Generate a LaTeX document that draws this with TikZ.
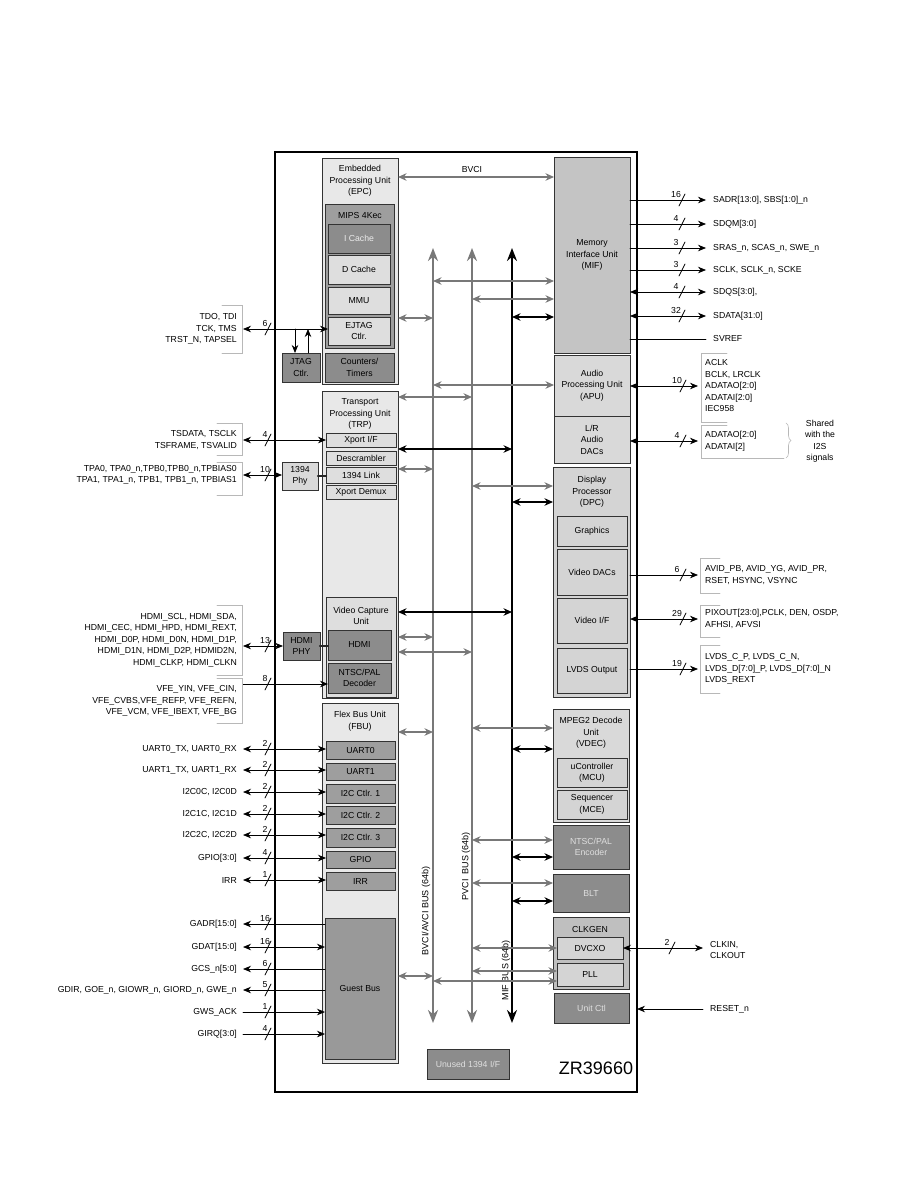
\documentclass[tikz,border=0pt]{standalone}
\usepackage{fontspec}
\setmainfont{Liberation Sans}
\usetikzlibrary{arrows.meta,decorations.pathreplacing}
\definecolor{unitfill}{gray}{0.91}
\definecolor{palefill}{gray}{0.87}
\definecolor{lightfill}{gray}{0.85}
\definecolor{midfill}{gray}{0.77}
\definecolor{mipsfill}{gray}{0.62}
\definecolor{darkfill}{gray}{0.55}
\definecolor{fbufill}{gray}{0.62}
\definecolor{guestfill}{gray}{0.6}
\definecolor{dpcfill}{gray}{0.83}
\definecolor{clkfill}{gray}{0.75}
\definecolor{boxline}{gray}{0.2}
\definecolor{busgray}{gray}{0.47}
\definecolor{bracketgray}{gray}{0.72}

\begin{document}
\begin{tikzpicture}[x=1pt,y=-1pt,>={Stealth[length=8pt,width=6.5pt]},font=\fontsize{8.7}{11.5}\selectfont,line cap=round,
  blk/.style={draw=boxline,line width=0.8pt,inner sep=0pt,outer sep=0pt,anchor=north west,align=center},
  ttl/.style={align=center,inner sep=0pt},
  sig/.style={line width=0.75pt},
  gbus/.style={busgray,line width=1.5pt,{Stealth[length=8.5pt,width=7.5pt]}-{Stealth[length=8.5pt,width=7.5pt]}},
  kbus/.style={black,line width=1.5pt,{Stealth[length=8.5pt,width=7.5pt]}-{Stealth[length=8.5pt,width=7.5pt]}},
  gspine/.style={busgray,line width=2.6pt,{Stealth[length=13pt,width=10pt]}-{Stealth[length=13pt,width=10pt]}},
  kspine/.style={black,line width=2.6pt,{Stealth[length=13pt,width=10pt]}-{Stealth[length=13pt,width=10pt]}},
  lsig/.style={anchor=east,align=right,inner xsep=6pt,inner ysep=0pt},
  rsig/.style={anchor=west,align=left,inner xsep=7pt,inner ysep=0pt},
  bitw/.style={anchor=south,inner sep=0pt},
  wslash/.style={line width=0.8pt},
  brk/.style={bracketgray,line width=0.6pt},
  phylink/.style={gray!30!black,line width=2.4pt}]
\useasboundingbox (0,0) rectangle (918,1188);
\fill[white] (0,0) rectangle (918,1188);

% chip outline
\node[draw,line width=2.6pt,inner sep=0pt,outer sep=0pt,anchor=north west,minimum width=362pt,minimum height=940pt] (chip) at (275,152) {};

% EPC
\node[blk,fill=unitfill,minimum width=76pt,minimum height=226pt] (epc) at (322,158) {};
\node[ttl] (epct) at (360,181) {Embedded\\Processing Unit\\(EPC)};
\node[blk,fill=mipsfill,minimum width=69pt,minimum height=144pt] (mips) at (325,204) {};
\node[ttl] (mipst) at (360,216) {MIPS 4Kec};
\node[blk,fill=darkfill,text=gray!15,minimum width=62pt,minimum height=29pt] (icache) at (328,224) {I Cache};
\node[blk,fill=palefill,minimum width=62pt,minimum height=29pt] (dcache) at (328,255) {D Cache};
\node[blk,fill=palefill,minimum width=62pt,minimum height=27pt] (mmu) at (328,287) {MMU};
\node[blk,fill=palefill,minimum width=62pt,minimum height=28pt] (ejtag) at (328,317) {EJTAG\\Ctlr.};
\node[blk,fill=darkfill,minimum width=69pt,minimum height=29pt] (counters) at (325,353) {Counters/\\Timers};
\node[blk,fill=darkfill,minimum width=38pt,minimum height=29pt] (jtag) at (282,353) {JTAG\\Ctlr.};

% TRP and video capture
\node[blk,fill=unitfill,minimum width=76pt,minimum height=307pt] (trp) at (322,391) {};
\node[ttl] (trpt) at (360,414) {Transport\\Processing Unit\\(TRP)};
\node[blk,fill=palefill,minimum width=70pt,minimum height=14pt] (xportif) at (326,433) {Xport I/F};
\node[blk,fill=palefill,minimum width=70pt,minimum height=14pt] (descr) at (326,451) {Descrambler};
\node[blk,fill=palefill,minimum width=70pt,minimum height=16pt] (link1394) at (326,467) {1394 Link};
\node[blk,fill=palefill,minimum width=70pt,minimum height=14pt] (demux) at (326,485) {Xport Demux};
\node[blk,fill=lightfill,minimum width=36pt,minimum height=28pt] (phy1394) at (282,462) {1394\\Phy};
\node[blk,fill=palefill,minimum width=70pt,minimum height=100pt] (vcu) at (326,597) {};
\node[ttl] (vcut) at (361,616) {Video Capture\\Unit};
\node[blk,fill=darkfill,minimum width=63pt,minimum height=30pt] (hdmi) at (328,630) {HDMI};
\node[blk,fill=darkfill,minimum width=63pt,minimum height=30pt] (ntscdec) at (328,663) {NTSC/PAL\\Decoder};
\node[blk,fill=darkfill,minimum width=37pt,minimum height=28pt] (hdmiphy) at (283,632) {HDMI\\PHY};

% FBU
\node[blk,fill=unitfill,minimum width=76pt,minimum height=360pt] (fbu) at (322,703) {};
\node[ttl] (fbut) at (360,721) {Flex Bus Unit\\(FBU)};
\node[blk,fill=fbufill,minimum width=69pt,minimum height=18pt] (uart0) at (326,741) {UART0};
\node[blk,fill=fbufill,minimum width=69pt,minimum height=17pt] (uart1) at (326,763) {UART1};
\node[blk,fill=fbufill,minimum width=69pt,minimum height=19pt] (i2cone) at (326,784) {I2C Ctlr. 1};
\node[blk,fill=fbufill,minimum width=69pt,minimum height=18pt] (i2ctwo) at (326,806) {I2C Ctlr. 2};
\node[blk,fill=fbufill,minimum width=69pt,minimum height=19pt] (i2cthree) at (326,828) {I2C Ctlr. 3};
\node[blk,fill=fbufill,minimum width=69pt,minimum height=17pt] (gpio) at (326,851) {GPIO};
\node[blk,fill=fbufill,minimum width=69pt,minimum height=18pt] (irr) at (326,872) {IRR};
\node[blk,fill=guestfill,minimum width=70pt,minimum height=141pt] (guest) at (325,918) {Guest Bus};

% right column
\node[blk,fill=midfill,minimum width=76pt,minimum height=196pt] (mif) at (554,157) {Memory\\Interface Unit\\(MIF)};
\node[blk,fill=lightfill,minimum width=76pt,minimum height=61pt] (apu) at (554,355) {Audio\\Processing Unit\\(APU)};
\node[blk,fill=lightfill,minimum width=76pt,minimum height=47pt] (lrdac) at (554,416) {L/R\\Audio\\DACs};
\node[blk,fill=dpcfill,minimum width=77pt,minimum height=230pt] (dpc) at (553,467) {};
\node[ttl] (dpct) at (592,492) {Display\\Processor\\(DPC)};
\node[blk,fill=dpcfill,minimum width=70pt,minimum height=30pt] (gfx) at (557,516) {Graphics};
\node[blk,fill=dpcfill,minimum width=70pt,minimum height=46pt] (vdac) at (557,549) {Video DACs};
\node[blk,fill=dpcfill,minimum width=70pt,minimum height=45pt] (vif) at (557,598) {Video I/F};
\node[blk,fill=dpcfill,minimum width=70pt,minimum height=45pt] (lvds) at (557,648) {LVDS Output};
\node[blk,fill=lightfill,minimum width=76pt,minimum height=113pt] (vdec) at (553,709) {};
\node[ttl] (vdect) at (591,733) {MPEG2 Decode\\Unit\\(VDEC)};
\node[blk,fill=dpcfill,minimum width=70pt,minimum height=29pt] (mcu) at (557,758) {uController\\(MCU)};
\node[blk,fill=dpcfill,minimum width=70pt,minimum height=29pt] (mce) at (557,790) {Sequencer\\(MCE)};
\node[blk,fill=darkfill,text=gray!25,minimum width=76pt,minimum height=44pt] (ntscenc) at (553,825) {NTSC/PAL\\Encoder};
\node[blk,fill=darkfill,text=gray!25,minimum width=76pt,minimum height=38pt] (blt) at (553,874) {BLT};
\node[blk,fill=clkfill,minimum width=76pt,minimum height=72pt] (clkgen) at (553,917) {};
\node[ttl] (clkgent) at (590,929) {CLKGEN};
\node[blk,fill=dpcfill,minimum width=66pt,minimum height=22pt] (dvcxo) at (557,937) {DVCXO};
\node[blk,fill=dpcfill,minimum width=66pt,minimum height=23pt] (pll) at (557,963) {PLL};
\node[blk,fill=darkfill,text=gray!25,minimum width=75pt,minimum height=30pt] (unitctl) at (554,993) {Unit Ctl};
\node[blk,fill=darkfill,text=gray!25,minimum width=82pt,minimum height=30pt] (unused) at (427,1049) {Unused 1394 I/F};
\node (partno) at (596,1068) {\fontsize{18}{20}\selectfont ZR39660};

% internal buses
\coordinate (b1t) at (433,248);
\coordinate (b1b) at (433,1023);
\coordinate (b2t) at (472,248);
\coordinate (b2b) at (472,1023);
\coordinate (b3t) at (512,248);
\coordinate (b3b) at (512,1023);
\draw[gspine] (b1b) -- (b1t);
\draw[gspine] (b2b) -- (b2t);
\draw[kspine] (b3b) -- (b3t);
\node[rotate=90,font=\fontsize{9}{10}\selectfont] (bvcibus) at (426,911) {BVCI/AVCI BUS (64b)};
\node[rotate=90,font=\fontsize{9}{10}\selectfont] (pvcibus) at (466,866) {PVCI\ \ BUS (64b)};
\node[rotate=90,font=\fontsize{9}{10}\selectfont] (mifbus) at (506,970) {MIF BUS (64b)};

\draw[gbus] (epc.east |- 0,177) -- (mif.west |- 0,177);
\node (bvcilbl) at (472,170) {BVCI};
\draw[gbus] (b1t |- 0,281) -- (mif.west |- 0,281);
\draw[gbus] (b2t |- 0,299) -- (mif.west |- 0,299);
\draw[kbus] (b3t |- 0,317) -- (mif.west |- 0,317);
\draw[gbus] (epc.east |- 0,318) -- (b1t |- 0,318);
\draw[gbus] (b1t |- 0,385) -- (apu.west |- 0,385);
\draw[gbus] (trp.east |- 0,397) -- (b2t |- 0,397);
\draw[kbus] (trp.east |- 0,449) -- (b3t |- 0,449);
\draw[gbus] (trp.east |- 0,469) -- (b1t |- 0,469);
\draw[gbus] (b2t |- 0,486) -- (dpc.west |- 0,486);
\draw[kbus] (b3t |- 0,502) -- (dpc.west |- 0,502);
\draw[kbus] (trp.east |- 0,612) -- (b3t |- 0,612);
\draw[gbus] (trp.east |- 0,637) -- (b1t |- 0,637);
\draw[gbus] (trp.east |- 0,652) -- (b2t |- 0,652);
\draw[gbus] (fbu.east |- 0,732) -- (b1t |- 0,732);
\draw[gbus] (b2t |- 0,728) -- (vdec.west |- 0,728);
\draw[kbus] (b3t |- 0,749) -- (vdec.west |- 0,749);
\draw[gbus] (b2t |- 0,840) -- (ntscenc.west |- 0,840);
\draw[kbus] (b3t |- 0,857) -- (ntscenc.west |- 0,857);
\draw[gbus] (b2t |- 0,883) -- (blt.west |- 0,883);
\draw[kbus] (b3t |- 0,901) -- (blt.west |- 0,901);
\draw[gbus] (b2t |- 0,948) -- (dvcxo.west |- 0,948);
\draw[gbus] (b2t |- 0,971) -- (pll.west |- 0,971);
\draw[gbus] (fbu.east |- 0,976) -- (b1t |- 0,976);
\draw[gbus] (b1t |- 0,981) -- (pll.west |- 0,981);

% left signals
\node[lsig] (tdo) at (243,329) {TDO, TDI\\TCK, TMS\\TRST\_N, TAPSEL};
\draw[sig,<->] (tdo.east) -- (tdo.east -| ejtag.west);
\draw[wslash] (268,329) +(-3,6) -- +(3,-6);
\node[bitw] (tdow) at (265,327) {6};
\coordinate (jdown) at (295,329);
\coordinate (jup) at (308,329);
\draw[sig,->] (jdown) -- (jdown |- jtag.north);
\draw[sig,->] (jup |- jtag.north) -- (jup);

\node[lsig] (tsig) at (243,440) {TSDATA, TSCLK\\TSFRAME, TSVALID};
\draw[sig,<->] (tsig.east) -- (tsig.east -| xportif.west);
\draw[wslash] (268,440) +(-3,6) -- +(3,-6);
\node[bitw] (tsw) at (265,438) {4};

\node[lsig] (tpsig) at (243,475) {TPA0, TPA0\_n,TPB0,TPB0\_n,TPBIAS0\\TPA1, TPA1\_n, TPB1, TPB1\_n, TPBIAS1};
\draw[sig,<->] (tpsig.east) -- (tpsig.east -| phy1394.west);
\draw[wslash] (268,475) +(-3,6) -- +(3,-6);
\node[bitw] (tpw) at (265,473) {10};
\draw[phylink] (phy1394.east) -- (phy1394.east -| link1394.west);

\node[lsig] (hdmisig) at (243,640) {HDMI\_SCL, HDMI\_SDA,\\HDMI\_CEC, HDMI\_HPD, HDMI\_REXT,\\HDMI\_D0P, HDMI\_D0N, HDMI\_D1P,\\HDMI\_D1N, HDMI\_D2P, HDMID2N,\\HDMI\_CLKP, HDMI\_CLKN};
\draw[sig,<->] (hdmisig.east |- hdmiphy.west) -- (hdmiphy.west);
\draw[wslash] (268,646) +(-3,6) -- +(3,-6);
\node[bitw] (hdmiw) at (265,644) {13};
\draw[phylink] (hdmiphy.east) -- (hdmiphy.east -| hdmi.west);

\node[lsig] (vfesig) at (243,701) {VFE\_YIN, VFE\_CIN,\\VFE\_CVBS,VFE\_REFP, VFE\_REFN,\\VFE\_VCM, VFE\_IBEXT, VFE\_BG};
\draw[sig,->] (vfesig.east |- 0,684) -- (ntscdec.west |- 0,684);
\draw[wslash] (268,684) +(-3,6) -- +(3,-6);
\node[bitw] (vfew) at (265,682) {8};

\node[lsig] (uart0s) at (243,749) {UART0\_TX, UART0\_RX};
\draw[sig,<->] (uart0s.east) -- (uart0s.east -| uart0.west);
\draw[wslash] (268,749) +(-3,6) -- +(3,-6);
\node[bitw] (uart0w) at (265,747) {2};
\node[lsig] (uart1s) at (243,770) {UART1\_TX, UART1\_RX};
\draw[sig,<->] (uart1s.east) -- (uart1s.east -| uart1.west);
\draw[wslash] (268,770) +(-3,6) -- +(3,-6);
\node[bitw] (uart1w) at (265,768) {2};
\node[lsig] (i2c0s) at (243,792) {I2C0C, I2C0D};
\draw[sig,<->] (i2c0s.east) -- (i2c0s.east -| i2cone.west);
\draw[wslash] (268,792) +(-3,6) -- +(3,-6);
\node[bitw] (i2c0w) at (265,790) {2};
\node[lsig] (i2c1s) at (243,814) {I2C1C, I2C1D};
\draw[sig,<->] (i2c1s.east) -- (i2c1s.east -| i2ctwo.west);
\draw[wslash] (268,814) +(-3,6) -- +(3,-6);
\node[bitw] (i2c1w) at (265,812) {2};
\node[lsig] (i2c2s) at (243,835) {I2C2C, I2C2D};
\draw[sig,<->] (i2c2s.east) -- (i2c2s.east -| i2cthree.west);
\draw[wslash] (268,835) +(-3,6) -- +(3,-6);
\node[bitw] (i2c2w) at (265,833) {2};
\node[lsig] (gpios) at (243,858) {GPIO[3:0]};
\draw[sig,<->] (gpios.east) -- (gpios.east -| gpio.west);
\draw[wslash] (268,858) +(-3,6) -- +(3,-6);
\node[bitw] (gpiow) at (265,856) {4};
\node[lsig] (irrs) at (243,880) {IRR};
\draw[sig,<->] (irrs.east) -- (irrs.east -| irr.west);
\draw[wslash] (268,880) +(-3,6) -- +(3,-6);
\node[bitw] (irrw) at (265,878) {1};

\node[lsig] (gadrs) at (243,924) {GADR[15:0]};
\draw[sig,->] (gadrs.east -| guest.west) -- (gadrs.east);
\draw[wslash] (268,924) +(-3,6) -- +(3,-6);
\node[bitw] (gadrw) at (265,922) {16};
\node[lsig] (gdats) at (243,947) {GDAT[15:0]};
\draw[sig,<->] (gdats.east) -- (gdats.east -| guest.west);
\draw[wslash] (268,947) +(-3,6) -- +(3,-6);
\node[bitw] (gdatw) at (265,945) {16};
\node[lsig] (gcss) at (243,969) {GCS\_n[5:0]};
\draw[sig,->] (gcss.east -| guest.west) -- (gcss.east);
\draw[wslash] (268,969) +(-3,6) -- +(3,-6);
\node[bitw] (gcsw) at (265,967) {6};
\node[lsig] (gdirs) at (243,990) {GDIR, GOE\_n, GIOWR\_n, GIORD\_n, GWE\_n};
\draw[sig,->] (gdirs.east -| guest.west) -- (gdirs.east);
\draw[wslash] (268,990) +(-3,6) -- +(3,-6);
\node[bitw] (gdirw) at (265,988) {5};
\node[lsig] (gwss) at (243,1012) {GWS\_ACK};
\draw[sig,->] (gwss.east) -- (gwss.east -| guest.west);
\draw[wslash] (268,1012) +(-3,6) -- +(3,-6);
\node[bitw] (gwsw) at (265,1010) {1};
\node[lsig] (girqs) at (243,1034) {GIRQ[3:0]};
\draw[sig,->] (girqs.east) -- (girqs.east -| guest.west);
\draw[wslash] (268,1034) +(-3,6) -- +(3,-6);
\node[bitw] (girqw) at (265,1032) {4};

% left brackets
\draw[brk] (222,305) -- (242,305) -- (242,353) -- (222,353);
\draw[brk] (217,423) -- (242,423) -- (242,455) -- (217,455);
\draw[brk] (217,462) -- (242,462) -- (242,495) -- (217,495);
\draw[brk] (217,605) -- (242,605) -- (242,675) -- (217,675);
\draw[brk] (217,678) -- (242,678) -- (242,723) -- (217,723);

% right signals
\node[rsig] (sadr) at (706,200) {SADR[13:0], SBS[1:0]\_n};
\draw[sig,->] (sadr.west -| mif.east) -- (sadr.west);
\draw[wslash] (682,200) +(-3,6) -- +(3,-6);
\node[bitw] (sadrw) at (676,198) {16};
\node[rsig] (sdqm) at (706,224) {SDQM[3:0]};
\draw[sig,->] (sdqm.west -| mif.east) -- (sdqm.west);
\draw[wslash] (682,224) +(-3,6) -- +(3,-6);
\node[bitw] (sdqmw) at (676,222) {4};
\node[rsig] (sras) at (706,248) {SRAS\_n, SCAS\_n, SWE\_n};
\draw[sig,->] (sras.west -| mif.east) -- (sras.west);
\draw[wslash] (682,248) +(-3,6) -- +(3,-6);
\node[bitw] (srasw) at (676,246) {3};
\node[rsig] (sclk) at (706,270) {SCLK, SCLK\_n, SCKE};
\draw[sig,->] (sclk.west -| mif.east) -- (sclk.west);
\draw[wslash] (682,270) +(-3,6) -- +(3,-6);
\node[bitw] (sclkw) at (676,268) {3};
\node[rsig] (sdqs) at (706,292) {SDQS[3:0],};
\draw[sig,<->] (sdqs.west -| mif.east) -- (sdqs.west);
\draw[wslash] (682,292) +(-3,6) -- +(3,-6);
\node[bitw] (sdqsw) at (676,290) {4};
\node[rsig] (sdata) at (706,316) {SDATA[31:0]};
\draw[sig,<->] (sdata.west -| mif.east) -- (sdata.west);
\draw[wslash] (682,316) +(-3,6) -- +(3,-6);
\node[bitw] (sdataw) at (676,314) {32};
\node[rsig] (svref) at (706,339) {SVREF};
\draw[sig] (svref.west -| mif.east) -- (svref.west);

\node[rsig] (apusig) at (698,386) {ACLK\\BCLK, LRCLK\\ADATAO[2:0]\\ADATAI[2:0]\\IEC958};
\draw[sig,<->] (apusig.west -| apu.east) -- (apusig.west);
\draw[wslash] (683,386) +(-3,6) -- +(3,-6);
\node[bitw] (apuw) at (677,384) {10};
\node[rsig] (i2ssig) at (698,441) {ADATAO[2:0]\\ADATAI[2]};
\draw[sig,<->] (i2ssig.west -| lrdac.east) -- (i2ssig.west);
\draw[wslash] (683,441) +(-3,6) -- +(3,-6);
\node[bitw] (i2sw) at (677,439) {4};
\draw[brk] (727,353) -- (701,353) -- (701,422) -- (727,422);
\draw[brk] (727,425) -- (701,425) -- (701,458) -- (784,458);
\draw[brk,decorate,decoration={brace,amplitude=5pt}] (786,423) -- (786,458);
\node[ttl] (shared) at (820,441) {Shared\\with the\\I2S\\signals};

\node[rsig] (vdacsig) at (698,575) {AVID\_PB, AVID\_YG, AVID\_PR,\\RSET, HSYNC, VSYNC};
\draw[sig,->] (vdacsig.west -| dpc.east) -- (vdacsig.west);
\draw[wslash] (683,575) +(-3,6) -- +(3,-6);
\node[bitw] (vdacw) at (677,573) {6};
\node[rsig] (vifsig) at (698,619) {PIXOUT[23:0],PCLK, DEN, OSDP,\\AFHSI, AFVSI};
\draw[sig,<->] (vifsig.west -| dpc.east) -- (vifsig.west);
\draw[wslash] (683,619) +(-3,6) -- +(3,-6);
\node[bitw] (vifw) at (677,617) {29};
\node[rsig] (lvdssig) at (698,669) {LVDS\_C\_P, LVDS\_C\_N,\\LVDS\_D[7:0]\_P, LVDS\_D[7:0]\_N\\LVDS\_REXT};
\draw[sig,->] (lvdssig.west -| dpc.east) -- (lvdssig.west);
\draw[wslash] (683,669) +(-3,6) -- +(3,-6);
\node[bitw] (lvdsw) at (677,667) {19};
\draw[brk] (720,558) -- (700,558) -- (700,593) -- (720,593);
\draw[brk] (720,605) -- (700,605) -- (700,637) -- (720,637);
\draw[brk] (720,645) -- (700,645) -- (700,693) -- (720,693);

\node[rsig] (clksig) at (703,950) {CLKIN,\\CLKOUT};
\draw[sig,<->] (dvcxo.east) -- (dvcxo.east -| clksig.west);
\draw[wslash] (672,948) +(-3,6) -- +(3,-6);
\node[bitw] (clkw) at (667,946) {2};
\node[rsig] (rstsig) at (703,1009) {RESET\_n};
\draw[sig,->] (rstsig.west) -- (rstsig.west -| chip.east);
\end{tikzpicture}
\end{document}
